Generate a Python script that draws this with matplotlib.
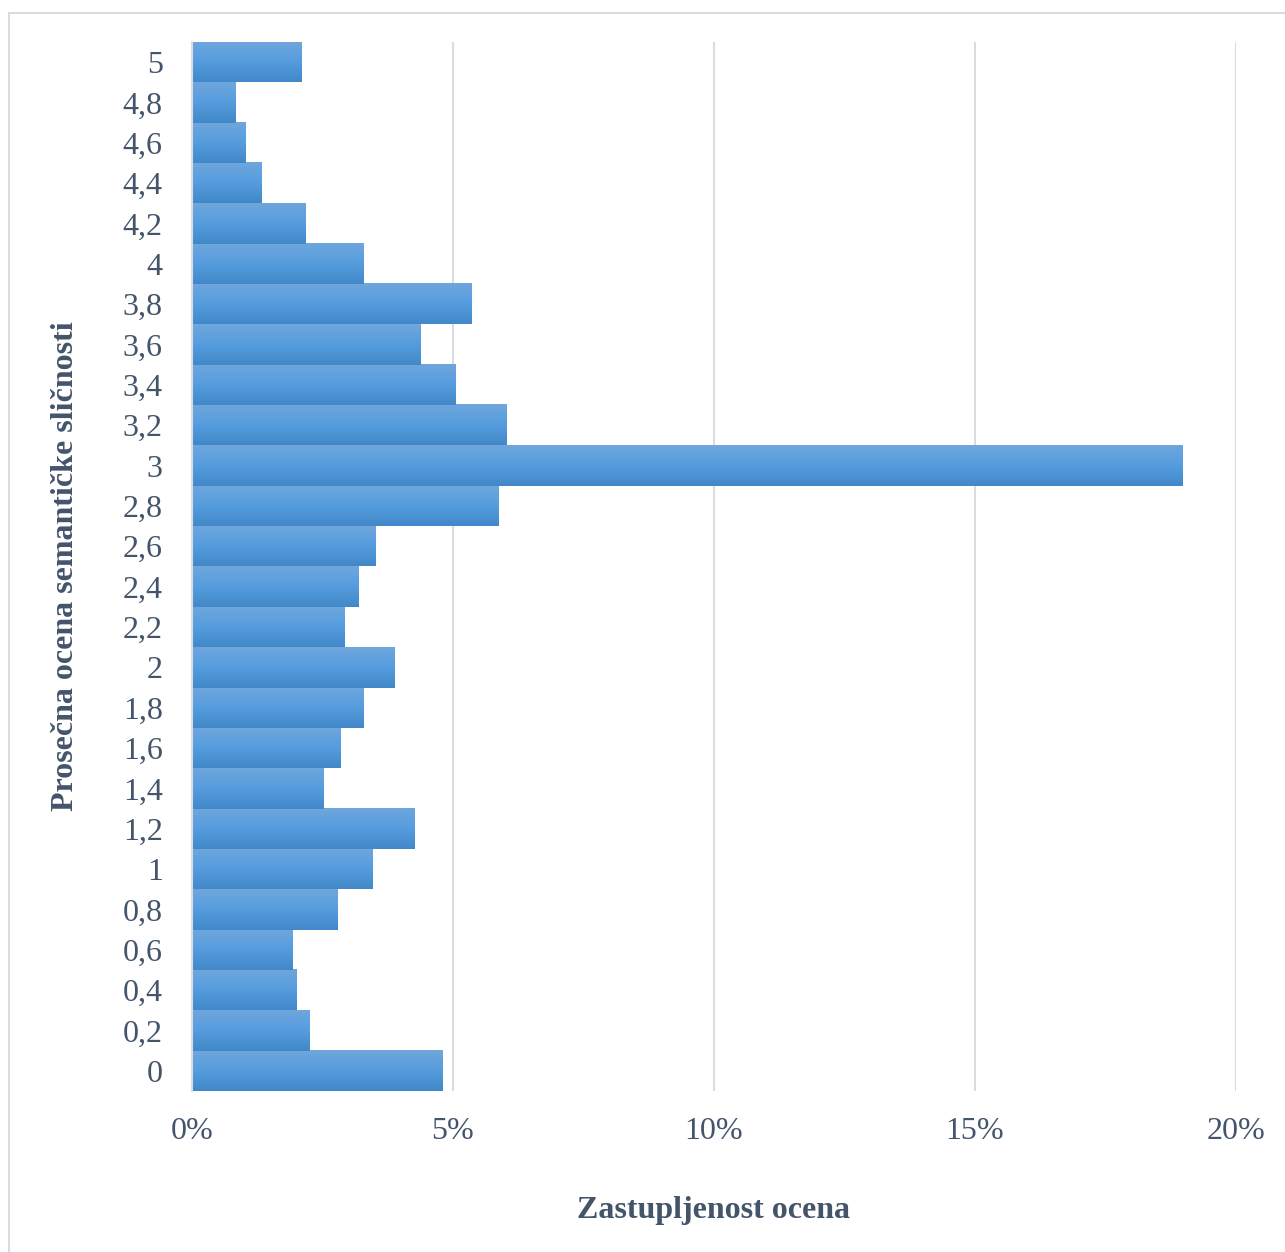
import numpy as np
import matplotlib.pyplot as plt
from matplotlib.colors import LinearSegmentedColormap
from matplotlib.lines import Line2D
from matplotlib.ticker import FuncFormatter

# average semantic similarity score (bins) and share of ratings in %
scores = ["0", "0,2", "0,4", "0,6", "0,8", "1", "1,2", "1,4", "1,6", "1,8",
          "2", "2,2", "2,4", "2,6", "2,8", "3", "3,2", "3,4", "3,6", "3,8",
          "4", "4,2", "4,4", "4,6", "4,8", "5"]
shares = [4.79, 2.26, 2.01, 1.93, 2.78, 3.45, 4.27, 2.51, 2.85, 3.28,
          3.87, 2.93, 3.18, 3.52, 5.88, 18.97, 6.03, 5.04, 4.37, 5.36,
          3.28, 2.18, 1.34, 1.02, 0.84, 2.09]
x_ticks = [0, 5, 10, 15, 20]

text_color = "#44546a"
grid_color = "#d9dde3"
plt.rcParams["font.family"] = ["Liberation Serif", "DejaVu Serif"]

fig = plt.figure(figsize=(12.85, 12.52), dpi=100)
ax = fig.add_axes([0.1494, 0.1286, 0.8125, 0.8379])

# Excel-style vertical gradient on every bar
grad = LinearSegmentedColormap.from_list(
    "bar", ["#4288c8", "#559ddf", "#6fa6dc"])
ramp = np.linspace(0, 1, 64).reshape(-1, 1)
bars = ax.barh(range(len(scores)), shares, height=1.0, color="none",
               edgecolor="none", zorder=3)
for b in bars:
    x0, y0 = b.get_x(), b.get_y()
    ax.imshow(ramp, cmap=grad, origin="lower", aspect="auto",
              extent=(x0, x0 + b.get_width(), y0, y0 + b.get_height()),
              zorder=3, interpolation="bilinear")

ax.set_xlim(0, 20)
ax.set_ylim(-0.5, len(scores) - 0.5)
ax.set_xticks(x_ticks)
ax.xaxis.set_major_formatter(FuncFormatter(lambda v, p: f"{v:.0f}%"))
ax.set_yticks(range(len(scores)))
ax.set_yticklabels(scores)

ax.grid(axis="x", color=grid_color, linewidth=1.5, zorder=0)
ax.grid(axis="y", visible=False)
for side in ["top", "right", "bottom"]:
    ax.spines[side].set_visible(False)
ax.spines["left"].set_color(grid_color)
ax.spines["left"].set_linewidth(1.5)
ax.spines["left"].set_zorder(4)

ax.tick_params(axis="both", length=0, labelsize=23, labelcolor=text_color)
ax.tick_params(axis="x", pad=19)
ax.tick_params(axis="y", pad=21)

fig.text(0.555, 0.033, "Zastupljenost ocena", ha="center", va="center",
         fontsize=23, fontweight="bold", color=text_color)
fig.text(0.051, 0.548, "Prosečna ocena semantičke sličnosti", ha="center",
         va="center", rotation=90, fontsize=23, fontweight="bold",
         color=text_color)

# chart area frame
fig.add_artist(Line2D([0.007, 1.0], [0.9896, 0.9896], color=grid_color,
                      linewidth=1.5, transform=fig.transFigure))
fig.add_artist(Line2D([0.007, 0.007], [0.0, 0.9896], color=grid_color,
                      linewidth=1.5, transform=fig.transFigure))

fig.savefig("out.png", dpi=100)
